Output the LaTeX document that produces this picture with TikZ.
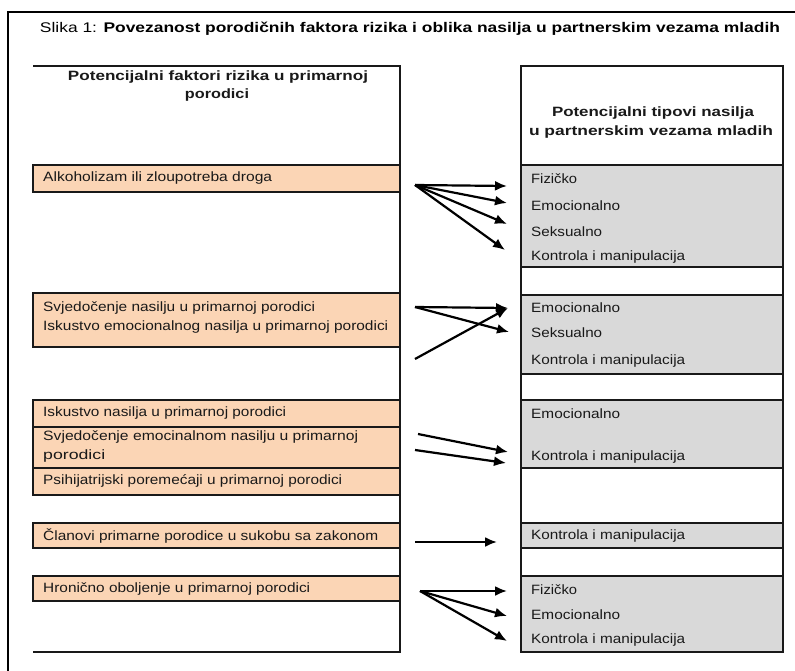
\documentclass[tikz,border=0pt]{standalone}
\usepackage{fontspec}
\setmainfont{Liberation Sans}
\usetikzlibrary{arrows.meta}
\definecolor{peach}{HTML}{FBD5B5}
\definecolor{lgray}{HTML}{D9D9D9}
\newcommand{\fw}[2]{\resizebox{#1pt}{\height}{#2}}
\begin{document}
\begin{tikzpicture}[x=1pt,y=-1pt,
  frame/.style={draw=black,line width=1.3pt},
  obox/.style={draw=black!90,line width=1.4pt,fill=peach},
  gbox/.style={draw=black!90,line width=1.4pt,fill=lgray},
  txt/.style={anchor=west,inner sep=0pt,font=\fontsize{13.5}{15}\selectfont,text=black!90},
  hdr/.style={anchor=center,inner sep=0pt,font=\fontsize{13.5}{15}\selectfont\bfseries,text=black!90},
  arr/.style={line width=2.2pt,-{Latex[length=12pt,width=10pt]}}]
\useasboundingbox (0,0) rectangle (795,671);
\fill[white] (0,0) rectangle (795,671);
% outer frame
\draw[frame] (795,12) -- (8,12) -- (8,671);
\node[anchor=center,inner sep=0pt,font=\fontsize{14}{16}\selectfont] (title) at (410,29)
  {\fw{740}{Slika 1: \textbf{Povezanost porodičnih faktora rizika i oblika nasilja u partnerskim vezama mladih}}};

% left column
\draw[line width=1.3pt,black!90] (33,66) -- (400,66) -- (400,652) -- (33,652);
\node[hdr] (lh1) at (218,77) {\fw{300}{Potencijalni faktori rizika u primarnoj}};
\node[hdr] (lh2) at (217,95) {\fw{64}{porodici}};

\draw[obox] (33,165) rectangle (400,192);
\draw[obox] (33,293) rectangle (400,347);
\draw[obox] (33,400) rectangle (400,427);
\draw[obox] (33,427) rectangle (400,468);
\draw[obox] (33,468) rectangle (400,495);
\draw[obox] (33,523) rectangle (400,548);
\draw[obox] (33,576) rectangle (400,601);

\node[txt] (l1) at (43,178) {\fw{229}{Alkoholizam ili zloupotreba droga}};
\node[txt] (l2) at (43,308) {\fw{272}{Svjedočenje nasilju u primarnoj porodici}};
\node[txt] (l3) at (43,327) {\fw{345}{Iskustvo emocionalnog nasilja u primarnoj porodici}};
\node[txt] (l4) at (43,413) {\fw{243}{Iskustvo nasilja u primarnoj porodici}};
\node[txt] (l5) at (43,437) {\fw{315}{Svjedočenje emocinalnom nasilju u primarnoj}};
\node[txt] (l5b) at (43,456) {\fw{62}{porodici}};
\node[txt] (l6) at (43,481) {\fw{299}{Psihijatrijski poremećaji u primarnoj porodici}};
\node[txt] (l7) at (43,536) {\fw{335}{Članovi primarne porodice u sukobu sa zakonom}};
\node[txt] (l8) at (43,589) {\fw{267}{Hronično oboljenje u primarnoj porodici}};

% right column
\draw[gbox] (521,165) rectangle (783,267);
\draw[gbox] (521,295) rectangle (783,374);
\draw[gbox] (521,400) rectangle (783,468);
\draw[gbox] (521,523) rectangle (783,548);
\draw[gbox] (521,576) rectangle (783,652);
\draw[line width=1.4pt,black!90] (521,66) rectangle (783,652);
\node[hdr] (rh1) at (653,113) {\fw{202}{Potencijalni tipovi nasilja}};
\node[hdr] (rh2) at (651,132) {\fw{244}{u partnerskim vezama mladih}};

\node[txt] (r1) at (531,179) {\fw{46}{Fizičko}};
\node[txt] (r2) at (531,206) {\fw{89}{Emocionalno}};
\node[txt] (r3) at (531,232) {\fw{71}{Seksualno}};
\node[txt] (r4) at (531,257) {\fw{154}{Kontrola i manipulacija}};
\node[txt] (r5) at (531,308) {\fw{89}{Emocionalno}};
\node[txt] (r6) at (531,333) {\fw{71}{Seksualno}};
\node[txt] (r7) at (531,361) {\fw{154}{Kontrola i manipulacija}};
\node[txt] (r8) at (531,414) {\fw{89}{Emocionalno}};
\node[txt] (r9) at (531,457) {\fw{154}{Kontrola i manipulacija}};
\node[txt] (r10) at (531,536) {\fw{154}{Kontrola i manipulacija}};
\node[txt] (r11) at (531,590) {\fw{46}{Fizičko}};
\node[txt] (r12) at (531,615) {\fw{89}{Emocionalno}};
\node[txt] (r13) at (531,640) {\fw{154}{Kontrola i manipulacija}};

% arrow anchor coordinates
\coordinate (s1) at (415,185);
\coordinate (e1a) at (507,186);
\coordinate (e1b) at (507,203);
\coordinate (e1c) at (507,224);
\coordinate (e1d) at (505,250);
\coordinate (s2) at (415,307);
\coordinate (s2b) at (415,359);
\coordinate (e2a) at (508,308);
\coordinate (e2b) at (509,332);
\coordinate (s3a) at (418,434);
\coordinate (s3b) at (415,450);
\coordinate (e3a) at (508,452);
\coordinate (e3b) at (506,463);
\coordinate (s4) at (415,542);
\coordinate (e4) at (497,542);
\coordinate (s5) at (420,591);
\coordinate (e5a) at (507,591);
\coordinate (e5b) at (507,616);
\coordinate (e5c) at (507,641);

\draw[arr] (s1) -- (e1a);
\draw[arr] (s1) -- (e1b);
\draw[arr] (s1) -- (e1c);
\draw[arr] (s1) -- (e1d);
\draw[arr] (s2) -- (e2a);
\draw[arr] (s2) -- (e2b);
\draw[arr] (s2b) -- (e2a);
\draw[arr] (s3a) -- (e3a);
\draw[arr] (s3b) -- (e3b);
\draw[arr] (s4) -- (e4);
\draw[arr] (s5) -- (e5a);
\draw[arr] (s5) -- (e5b);
\draw[arr] (s5) -- (e5c);
\end{tikzpicture}
\end{document}
